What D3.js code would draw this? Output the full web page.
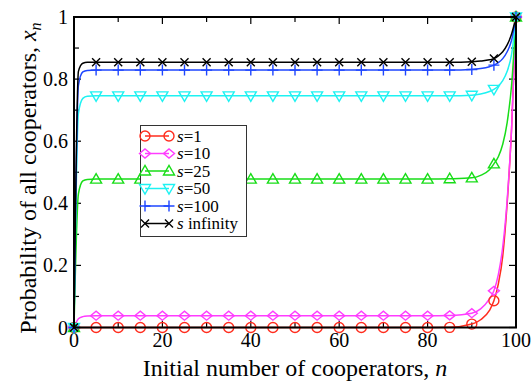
<!DOCTYPE html>
<html>
<head>
<meta charset="utf-8">
<script src="https://cdn.jsdelivr.net/npm/d3@7"></script>
<style>
  body { margin: 0; background: #fff; }
  svg { display: block; }
</style>
</head>
<body>
<div id="chart"></div>
<script>
// data
const markerN = [0, 5, 10, 15, 20, 25, 30, 35, 40, 45, 50, 55, 60, 65, 70, 75, 80, 85, 90, 95, 100];
const lineN = [0, 1, 2, 3, 5, 10, 20, 30, 40, 50, 60, 70, 80, 85, 90, 92, 94, 95, 96, 97, 98, 99, 100];

const s1Markers = [0, 0, 0, 0, 0, 0, 0, 0, 0, 0, 0, 0, 0, 0, 0, 0, 0, 0.0005, 0.011, 0.086, 1];
const s1Line = [0, 0, 0, 0, 0, 0, 0, 0, 0, 0, 0, 0, 0, 0.0005, 0.011, 0.025, 0.055, 0.086, 0.14, 0.23, 0.40, 0.64, 1];

const s10Markers = [0, 0.038, 0.038, 0.038, 0.038, 0.038, 0.038, 0.038, 0.038, 0.038, 0.038, 0.038, 0.038, 0.038, 0.038, 0.038, 0.038, 0.039, 0.046, 0.118, 1];
const s10Line = [0, 0.028, 0.035, 0.037, 0.038, 0.038, 0.038, 0.038, 0.038, 0.038, 0.038, 0.038, 0.038, 0.039, 0.046, 0.06, 0.092, 0.118, 0.17, 0.26, 0.41, 0.64, 1];

const s25Markers = [0, 0.478, 0.478, 0.478, 0.478, 0.478, 0.478, 0.478, 0.478, 0.478, 0.478, 0.478, 0.478, 0.478, 0.478, 0.478, 0.478, 0.479, 0.482, 0.527, 1];
const s25Line = [0, 0.43, 0.472, 0.477, 0.478, 0.478, 0.478, 0.478, 0.478, 0.478, 0.478, 0.478, 0.478, 0.479, 0.482, 0.49, 0.508, 0.527, 0.55, 0.59, 0.66, 0.78, 1];

const s50Markers = [0, 0.746, 0.746, 0.746, 0.746, 0.746, 0.746, 0.746, 0.746, 0.746, 0.746, 0.746, 0.746, 0.746, 0.746, 0.746, 0.746, 0.746, 0.748, 0.767, 1];
const s50Line = [0, 0.69, 0.738, 0.745, 0.746, 0.746, 0.746, 0.746, 0.746, 0.746, 0.746, 0.746, 0.746, 0.746, 0.748, 0.752, 0.76, 0.767, 0.778, 0.795, 0.825, 0.88, 1];

const s100Markers = [0, 0.829, 0.829, 0.829, 0.829, 0.829, 0.829, 0.829, 0.829, 0.829, 0.829, 0.829, 0.829, 0.829, 0.829, 0.829, 0.829, 0.829, 0.831, 0.845, 1];
const s100Line = [0, 0.78, 0.823, 0.828, 0.829, 0.829, 0.829, 0.829, 0.829, 0.829, 0.829, 0.829, 0.829, 0.829, 0.831, 0.834, 0.84, 0.845, 0.853, 0.866, 0.888, 0.925, 1];

const sInfMarkers = [0, 0.854, 0.854, 0.854, 0.854, 0.854, 0.854, 0.854, 0.854, 0.854, 0.854, 0.854, 0.854, 0.854, 0.854, 0.854, 0.854, 0.854, 0.856, 0.866, 1];
const sInfLine = [0, 0.825, 0.851, 0.854, 0.854, 0.854, 0.854, 0.854, 0.854, 0.854, 0.854, 0.854, 0.854, 0.854, 0.856, 0.858, 0.862, 0.866, 0.875, 0.888, 0.91, 0.945, 1];

const legendLabels = ["1", "10", "25", "50", "100", " infinity"];
const xTicks = [0, 20, 40, 60, 80, 100];
const yTicks = [0, 0.2, 0.4, 0.6, 0.8, 1];

const series = [
    {label: legendLabels[0], line: s1Line, markers: s1Markers, color: "#ff2d1e", shape: "circle"},
    {label: legendLabels[1], line: s10Line, markers: s10Markers, color: "#ff3cff", shape: "diamond"},
    {label: legendLabels[2], line: s25Line, markers: s25Markers, color: "#18dd18", shape: "triUp"},
    {label: legendLabels[3], line: s50Line, markers: s50Markers, color: "#1ef2f2", shape: "triDown"},
    {label: legendLabels[4], line: s100Line, markers: s100Markers, color: "#1e46ff", shape: "plus"},
    {label: legendLabels[5], line: sInfLine, markers: sInfMarkers, color: "#000000", shape: "cross"}
];

const width = 531, height = 383;
const mLeft = 74, mRight = 516, mTop = 17, mBottom = 327.5;
const serif = "'Liberation Serif', 'Times New Roman', Times, 'DejaVu Serif', serif";

const svg = d3.select("#chart").append("svg")
    .attr("width", width)
    .attr("height", height)
    .attr("font-family", serif);

const x = d3.scaleLinear().domain([0, 100]).range([mLeft, mRight]);
const y = d3.scaleLinear().domain([0, 1]).range([mBottom, mTop]);

// marker outlines, centred on 0,0
function shapePath(shape) {
    const p = d3.path();
    if (shape === "circle") {
        p.moveTo(5, 0); p.arc(0, 0, 5, 0, 2 * Math.PI);
    } else if (shape === "diamond") {
        p.moveTo(-5.5, 0); p.lineTo(0, -4.5); p.lineTo(5.5, 0); p.lineTo(0, 4.5); p.closePath();
    } else if (shape === "triUp") {
        p.moveTo(-5.5, 4); p.lineTo(5.5, 4); p.lineTo(0, -5.5); p.closePath();
    } else if (shape === "triDown") {
        p.moveTo(-5.5, -4); p.lineTo(5.5, -4); p.lineTo(0, 5.5); p.closePath();
    } else if (shape === "plus") {
        p.moveTo(-5.5, 0); p.lineTo(5.5, 0); p.moveTo(0, -5.5); p.lineTo(0, 5.5);
    } else {
        p.moveTo(-4, -4); p.lineTo(4, 4); p.moveTo(-4, 4); p.lineTo(4, -4);
    }
    return p.toString();
}

// ticks, inward on all four sides
const tickG = svg.append("g").attr("stroke", "#000").attr("stroke-width", 1.2);
const xAll = d3.range(0, 101, 10);
const yAll = d3.range(0, 11).map(d => d / 10);
xAll.forEach(v => {
    const len = v % 20 === 0 ? 7 : 5;
    tickG.append("line").attr("x1", x(v)).attr("x2", x(v)).attr("y1", mBottom).attr("y2", mBottom - len);
    tickG.append("line").attr("x1", x(v)).attr("x2", x(v)).attr("y1", mTop).attr("y2", mTop + len);
});
yAll.forEach(v => {
    const len = Math.round(v * 10) % 2 === 0 ? 7 : 5;
    tickG.append("line").attr("y1", y(v)).attr("y2", y(v)).attr("x1", mLeft).attr("x2", mLeft + len);
    tickG.append("line").attr("y1", y(v)).attr("y2", y(v)).attr("x1", mRight).attr("x2", mRight - len);
});

// tick labels
svg.append("g").selectAll("text").data(xTicks).enter().append("text")
    .attr("x", d => x(d))
    .attr("y", 347)
    .attr("text-anchor", "middle")
    .attr("font-family", serif)
    .attr("font-size", 20)
    .text(d => d);

svg.append("g").selectAll("text").data(yTicks).enter().append("text")
    .attr("x", 68)
    .attr("y", d => y(d))
    .attr("dy", "0.35em")
    .attr("text-anchor", "end")
    .attr("font-family", serif)
    .attr("font-size", 20)
    .text(d => d);

// curves and markers
const line = d3.line()
    .x((d, i) => x(lineN[i]))
    .y(d => y(d))
    .curve(d3.curveMonotoneX);

const plot = svg.append("g");
series.forEach(s => {
    plot.append("path")
        .attr("d", line(s.line))
        .attr("fill", "none")
        .attr("stroke", s.color)
        .attr("stroke-width", 1.5);
});
series.forEach(s => {
    plot.append("g").selectAll("path").data(s.markers).enter().append("path")
        .attr("transform", (d, i) => "translate(" + x(markerN[i]) + "," + y(d) + ")")
        .attr("d", shapePath(s.shape))
        .attr("fill", "none")
        .attr("stroke", s.color)
        .attr("stroke-width", 1.4);
});

// frame
svg.append("rect")
    .attr("x", mLeft).attr("y", mTop)
    .attr("width", mRight - mLeft).attr("height", mBottom - mTop)
    .attr("fill", "none")
    .attr("stroke", "#000")
    .attr("stroke-width", 2);

// legend
const legend = svg.append("g");
legend.append("rect")
    .attr("x", 140.5).attr("y", 125.5)
    .attr("width", 106).attr("height", 111)
    .attr("fill", "#fff")
    .attr("stroke", "#333")
    .attr("stroke-width", 1);

series.forEach((s, i) => {
    const ly = 136 + i * 17.5;
    legend.append("line")
        .attr("x1", 145).attr("x2", 169)
        .attr("y1", ly).attr("y2", ly)
        .attr("stroke", s.color).attr("stroke-width", 1.5);
    [145, 169].forEach(lx => {
        legend.append("path")
            .attr("transform", "translate(" + lx + "," + ly + ")")
            .attr("d", shapePath(s.shape))
            .attr("fill", "none")
            .attr("stroke", s.color)
            .attr("stroke-width", 1.4);
    });
    const t = legend.append("text")
        .attr("x", 177)
        .attr("y", ly)
        .attr("dy", "0.35em")
        .attr("font-family", serif)
        .attr("font-size", 17);
    t.append("tspan").attr("font-style", "italic").text("s");
    t.append("tspan").text(i < 5 ? "=" + s.label : s.label);
});

// axis titles
const xt = svg.append("text")
    .attr("x", (mLeft + mRight) / 2)
    .attr("y", 376)
    .attr("text-anchor", "middle")
    .attr("font-family", serif)
    .attr("font-size", 24);
xt.append("tspan").text("Initial number of cooperators, ");
xt.append("tspan").attr("font-style", "italic").text("n");

const yt = svg.append("text")
    .attr("transform", "translate(36," + 178 + ") rotate(-90)")
    .attr("text-anchor", "middle")
    .attr("font-family", serif)
    .attr("font-size", 24);
yt.append("tspan").text("Probability of all cooperators, ");
yt.append("tspan").attr("font-style", "italic").text("x");
yt.append("tspan").attr("font-style", "italic").attr("font-size", 16).attr("dy", 5).text("n");
</script>
</body>
</html>
